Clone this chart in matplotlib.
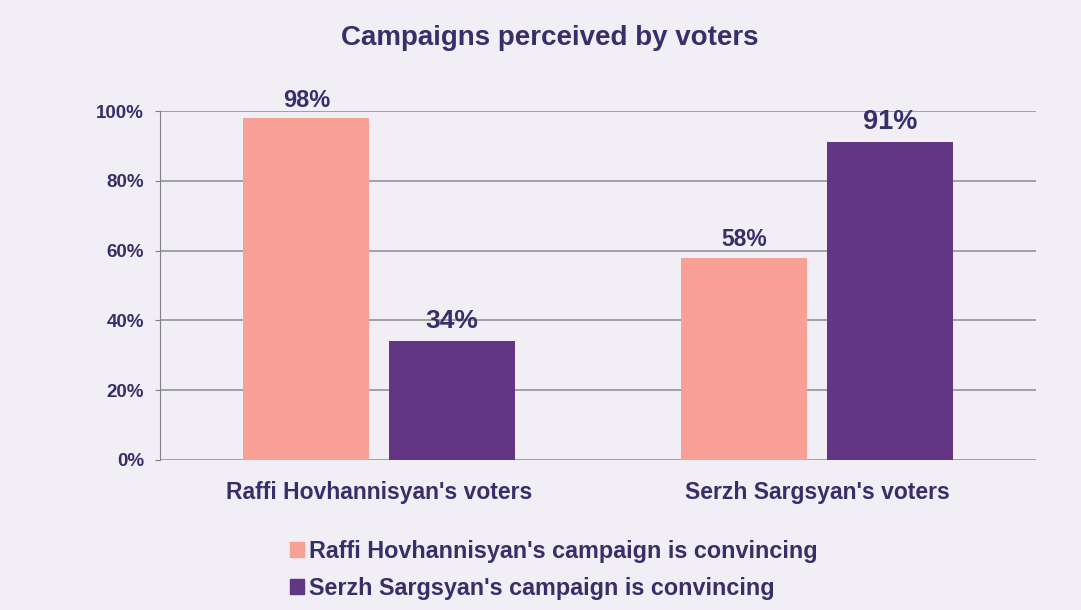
import matplotlib
matplotlib.use("Agg")
import matplotlib.pyplot as plt
import numpy as np
from matplotlib.patches import Patch

categories = ["Raffi Hovhannisyan's voters", "Serzh Sargsyan's voters"]
series_names = ["Raffi Hovhannisyan's campaign is convincing",
                "Serzh Sargsyan's campaign is convincing"]
raffi_convincing = [98, 58]
serzh_convincing = [34, 91]
yticks = [0, 20, 40, 60, 80, 100]
ytick_labels = ["0%", "20%", "40%", "60%", "80%", "100%"]

plt.rcParams['font.family'] = ['Liberation Sans', 'DejaVu Sans']
bg = "#f1eef5"
pink = "#f9a096"
purple = "#623682"
txt = "#35306a"

fig = plt.figure(figsize=(10.81, 6.10), dpi=100)
fig.patch.set_facecolor(bg)
ax = fig.add_axes([160/1081, 1 - 460/610, 876/1081, (460-111)/610])
ax.set_facecolor(bg)

x = np.arange(len(categories))
w = 0.288
off = 0.166
ax.bar(x - off, raffi_convincing, w, color=pink, zorder=3)
ax.bar(x + off, serzh_convincing, w, color=purple, zorder=3)

ax.set_xlim(-0.5, 1.5)
ax.set_ylim(0, 100)
ax.set_yticks(yticks)
ax.set_yticklabels(ytick_labels, fontsize=13.5, fontweight='bold', color=txt)
ax.set_xticks(x)
ax.set_xticklabels(categories, fontsize=16.5, fontweight='bold', color=txt)
ax.tick_params(axis='x', length=0, pad=15)
ax.tick_params(axis='y', length=3.6, color='#808080', pad=8)
ax.grid(axis='y', color='#8a8a8a', linewidth=1.1, zorder=0)
for s in ['top', 'right', 'bottom']:
    ax.spines[s].set_visible(False)
ax.spines['left'].set_color('#808080')

pink_sizes = [17, 16.5]
pink_gaps = [8, 8.5]
purple_sizes = [19, 19.5]
purple_gaps = [9.5, 10]
for i, v in enumerate(raffi_convincing):
    ax.annotate(f"{v}%", (x[i] - off, v), xytext=(0, pink_gaps[i]), textcoords='offset points',
                ha='center', va='baseline', fontsize=pink_sizes[i],
                fontweight='bold', color=txt)
for i, v in enumerate(serzh_convincing):
    ax.annotate(f"{v}%", (x[i] + off, v), xytext=(0, purple_gaps[i]), textcoords='offset points',
                ha='center', va='baseline', fontsize=purple_sizes[i],
                fontweight='bold', color=txt)

fig.text(550/1081, 1 - 38/610, "Campaigns perceived by voters", ha='center', va='center',
         fontsize=20, fontweight='bold', color=txt)

handles = [Patch(color=pink), Patch(color=purple)]
fig.legend(handles, series_names, loc='upper left',
           bbox_to_anchor=(290/1081, 1 - 540/610), frameon=False,
           prop={'size': 16.8, 'weight': 'bold'}, labelcolor=txt,
           handlelength=0.6, handleheight=0.6, handletextpad=0.2,
           labelspacing=0.58, borderpad=0, borderaxespad=0)

fig.savefig("out.png", dpi=100, facecolor=bg)
